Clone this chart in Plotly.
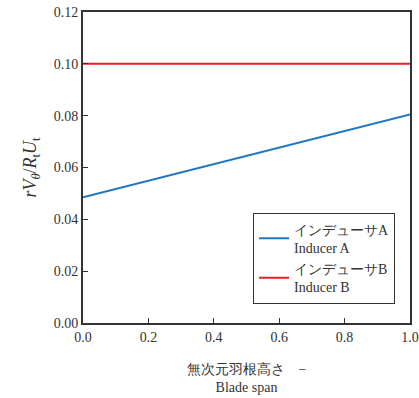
import plotly.graph_objects as go

span = [0.0, 1.0]
inducer_a = [0.0485, 0.0805]
inducer_b = [0.100, 0.100]
x_ticks = [0.0, 0.2, 0.4, 0.6, 0.8, 1.0]
y_ticks = [0.00, 0.02, 0.04, 0.06, 0.08, 0.10, 0.12]

serif = "Liberation Serif"

fig = go.Figure()
fig.add_trace(go.Scatter(x=span, y=inducer_a, mode="lines",
                         line=dict(color="#1f77c4", width=2),
                         name="インデューサA<br>Inducer A"))
fig.add_trace(go.Scatter(x=span, y=inducer_b, mode="lines",
                         line=dict(color="#ee1c25", width=2),
                         name="インデューサB<br>Inducer B"))

axis_common = dict(showgrid=False, zeroline=False, showline=True, linecolor="#333",
                   linewidth=2, mirror=True, ticks="inside", ticklen=5, tickcolor="#333",
                   automargin=False,
                   tickfont=dict(family=serif, size=14, color="#333"))

fig.update_layout(
    width=419, height=398,
    margin=dict(l=83, r=9, t=12, b=75, autoexpand=False),
    plot_bgcolor="white", paper_bgcolor="white",
    font=dict(family=serif, color="#333"),
    xaxis=dict(range=[0, 1], tickvals=x_ticks, ticktext=[f"{v:.1f}" for v in x_ticks],
               title=dict(text="無次元羽根高さ　−<br>Blade span", font=dict(size=14, family=serif), standoff=20),
               **axis_common),
    yaxis=dict(range=[0, 0.12], tickvals=y_ticks, ticktext=[f"{v:.2f}" for v in y_ticks],
               title=dict(text="<i>rV</i><sub><i>θ</i></sub>/<i>R</i><sub>t</sub><i>U</i><sub>t</sub>",
                          font=dict(size=18, family=serif), standoff=12),
               **axis_common),
    legend=dict(x=0.52, y=0.355, xanchor="left", yanchor="top",
                bgcolor="white", bordercolor="#333", borderwidth=1,
                font=dict(family=serif, size=14, color="#333"),
                itemwidth=30, tracegroupgap=4),
    showlegend=True,
)

fig.write_html("out.html")
